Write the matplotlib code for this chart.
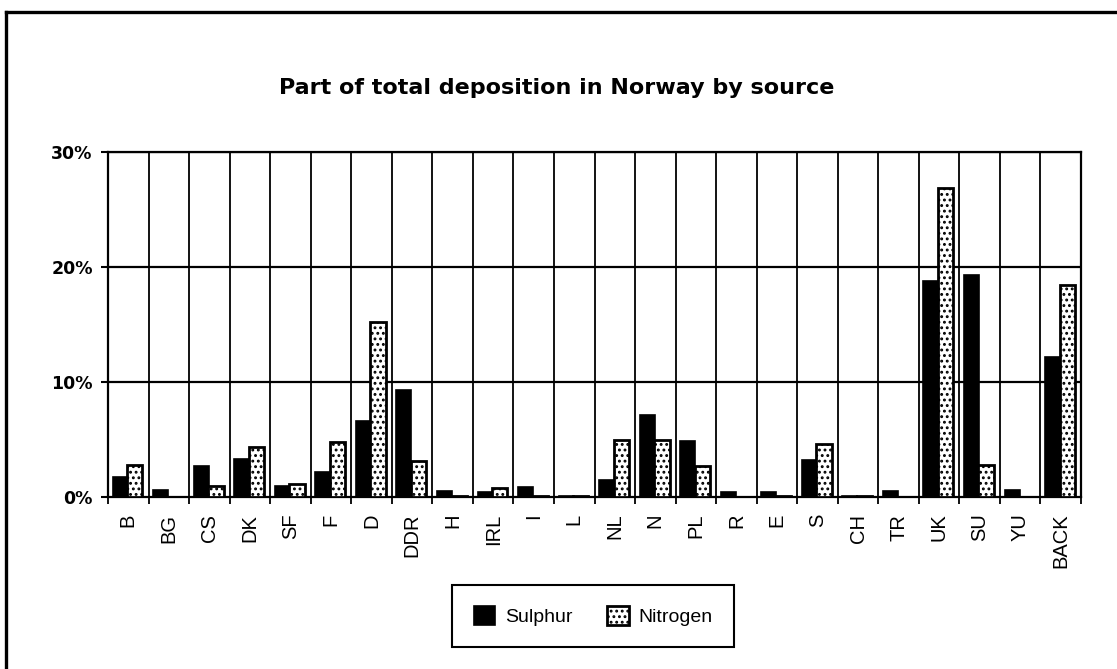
import matplotlib.pyplot as plt
import numpy as np
from matplotlib.lines import Line2D

# data (% of total deposition)
sources = ['B', 'BG', 'CS', 'DK', 'SF', 'F', 'D', 'DDR', 'H', 'IRL', 'I', 'L',
           'NL', 'N', 'PL', 'R', 'E', 'S', 'CH', 'TR', 'UK', 'SU', 'YU', 'BACK']
sulphur = [1.7, 0.6, 2.7, 3.3, 1.0, 2.2, 6.6, 9.3, 0.5, 0.45, 0.9, 0.1,
           1.5, 7.1, 4.9, 0.45, 0.45, 3.25, 0.1, 0.5, 18.8, 19.3, 0.6, 12.2]
nitrogen = [2.8, 0.0, 1.0, 4.35, 1.15, 4.8, 15.2, 3.1, 0.05, 0.75, 0.05, 0.05,
            5.0, 5.0, 2.7, 0.0, 0.05, 4.6, 0.05, 0.0, 26.9, 2.75, 0.0, 18.4]
yticks = [0, 10, 20, 30]
ytick_labels = ['0%', '10%', '20%', '30%']

W, H = 1117, 669
fig = plt.figure(figsize=(W / 100, H / 100), dpi=100)
fig.patch.set_facecolor('white')

# outer frame (cut off at right and bottom in the scan)
fig.add_artist(Line2D([6 / W, 6 / W], [0, 1 - 12 / H], color='black', lw=2.4))
fig.add_artist(Line2D([6 / W, 1], [1 - 12 / H, 1 - 12 / H], color='black', lw=2.4))

ax = fig.add_axes([108 / W, (H - 497) / H, (1081 - 108) / W, (497 - 152) / H])

x = np.arange(len(sources))
plt.rcParams['hatch.linewidth'] = 1.3
ax.bar(x + 0.30, sulphur, width=0.37, color='black', edgecolor='black',
       linewidth=1.2, label='Sulphur', zorder=3)
ax.bar(x + 0.66, nitrogen, width=0.38, color='white', edgecolor='black',
       linewidth=2.0, hatch='...', label='Nitrogen', zorder=4)

ax.set_xlim(0, len(sources))
ax.set_ylim(0, 30)

# grid: horizontal at 10% steps, vertical at category boundaries
for yv in yticks[1:]:
    ax.axhline(yv, color='black', lw=1.6, zorder=2)
for xv in range(1, len(sources)):
    ax.axvline(xv, color='black', lw=1.3, zorder=2)

for s in ax.spines.values():
    s.set_linewidth(1.6)

ax.set_yticks(yticks)
ax.set_yticklabels(ytick_labels, fontsize=12.5, fontweight='bold', family='DejaVu Sans')
ax.tick_params(axis='y', length=5, width=1.5, pad=6)

ax.set_xticks(np.arange(len(sources) + 1))
ax.set_xticklabels([])
ax.tick_params(axis='x', length=5, width=1.3)
ax.set_xticks(x + 0.5, minor=True)
ax.set_xticklabels(sources, minor=True, rotation=90, fontsize=14.5,
                   family='Liberation Sans', va='top')
ax.tick_params(axis='x', which='minor', length=0, pad=12)

fig.text(557 / W, 1 - 88 / H, 'Part of total deposition in Norway by source',
         ha='center', va='center', fontsize=16, fontweight='bold',
         family='DejaVu Sans')

leg = fig.legend(loc='center', bbox_to_anchor=(593 / W, 1 - 616 / H), ncol=2,
                 prop={'family': 'Liberation Sans', 'size': 14},
                 fancybox=False, edgecolor='black', framealpha=1,
                 handlelength=1.1, handleheight=1.1, columnspacing=1.8,
                 borderpad=1.1, handletextpad=0.5)
leg.get_frame().set_linewidth(1.5)

fig.savefig('out.png', dpi=100)
